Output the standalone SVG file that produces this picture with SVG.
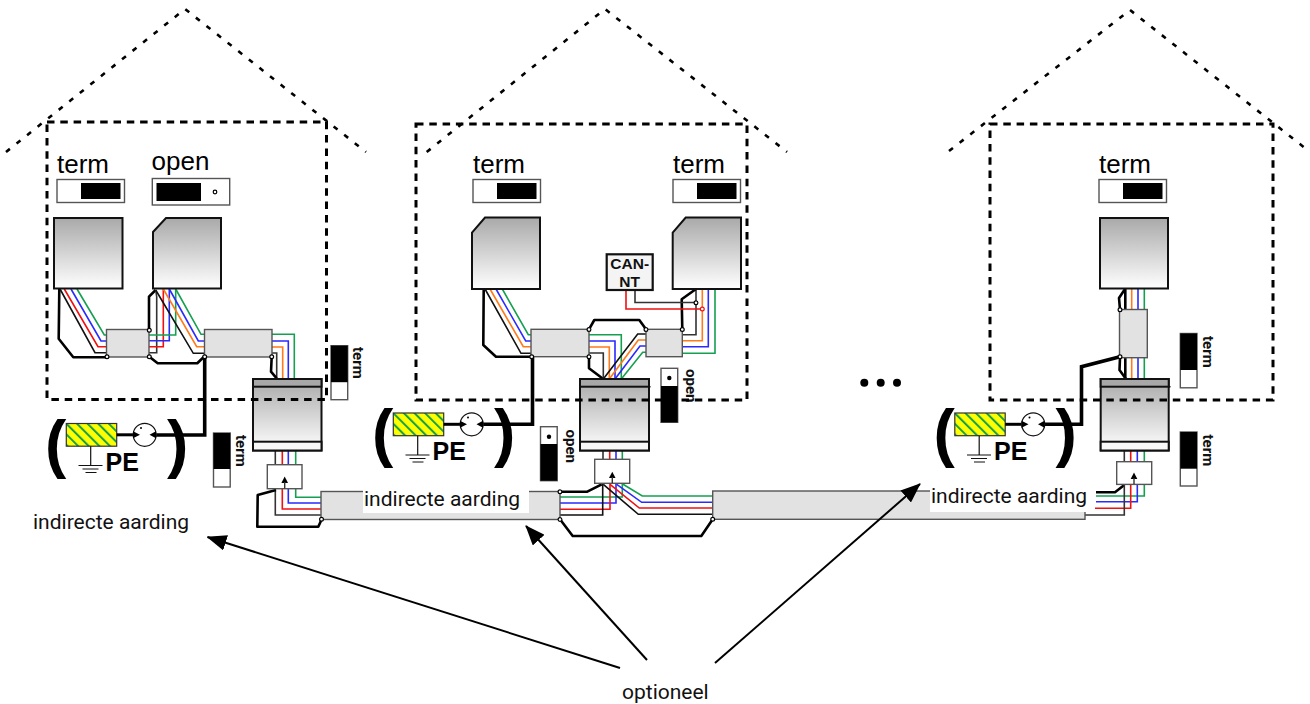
<svg xmlns="http://www.w3.org/2000/svg" width="1310" height="704" viewBox="0 0 1310 704">
<style>
.w{fill:none;stroke-width:1.6;stroke-linejoin:miter}
.r{stroke:#f01010}.b{stroke:#2a2aff}.g{stroke:#14a050}.o{stroke:#ff7a1a}.k{stroke:#333}.kk{stroke:#111}
.t{fill:none;stroke:#000;stroke-width:2.6;stroke-linejoin:round}
.tt{fill:none;stroke:#000;stroke-width:3.6;stroke-linejoin:miter}
.dev{fill:url(#gr);stroke:#111;stroke-width:2}
.band{fill:#a8a8a8;stroke:#111;stroke-width:2}
.low{fill:#f8f8f8;stroke:#111;stroke-width:2}
.split{fill:#e2e2e2;stroke:#555;stroke-width:1.4}
.box{fill:#fff;stroke:#555;stroke-width:1.4}
.sw{fill:#fff;stroke:#555;stroke-width:1.4}
.bl{fill:#000}
.big{font-family:"Liberation Sans",Arial,sans-serif;font-size:26px;fill:#000}
.lab{font-family:Roboto,"Liberation Sans",sans-serif;font-size:21px;fill:#111}
.rot{font-family:Roboto,"Liberation Sans",sans-serif;font-size:15px;font-weight:700;fill:#111}
.pe{font-family:"Liberation Sans",Arial,sans-serif;font-size:25px;font-weight:700;fill:#000}
.par{font-family:"Liberation Sans",Arial,sans-serif;font-size:64px;font-weight:700;fill:#000}
.can{font-family:"Liberation Sans",Arial,sans-serif;font-size:15.5px;font-weight:700;fill:#111;text-anchor:middle}
.dash{fill:none;stroke:#000;stroke-width:3;stroke-dasharray:7.5 5.8}
.roof{fill:none;stroke:#000;stroke-width:2.6;stroke-dasharray:5 8.5}
.arr{fill:none;stroke:#000;stroke-width:2}
.j{fill:#fff;stroke:#000;stroke-width:1.2}
</style>
<defs>
<linearGradient id="gr" x1="0" y1="0" x2="0" y2="1"><stop offset="0" stop-color="#a9a9a9"/><stop offset="1" stop-color="#fff"/></linearGradient>
<pattern id="hatch" width="7.5" height="7.5" patternUnits="userSpaceOnUse" patternTransform="rotate(-45)"><rect width="7.5" height="7.5" fill="#ffff00"/><rect width="2" height="7.5" fill="#14a050"/></pattern>
<marker id="ah" markerUnits="userSpaceOnUse" markerWidth="20" markerHeight="16" refX="19" refY="8" orient="auto"><path d="M0 0L20 8L0 16Z" fill="#000"/></marker>
</defs>

<g id="connectors">
<path class="t" d="M59.3 289L58.7 338.7L73.3 357.3H106.7"/>
<path class="w kk" d="M60 289L95 352.7H107"/>
<path class="w r" d="M64.3 289L98 346.7H107"/>
<path class="w b" d="M71 289L101 341H107"/>
<path class="w g" d="M77 289L104.3 335H107"/>
<path class="t" d="M149 330V296.7L155.7 290"/>
<path class="w k" d="M149 352.7H156.7V296.7L155.7 290"/>
<path class="w r" d="M149 346.7H163.3V289"/>
<path class="w b" d="M149 340.7H169.3V289"/>
<path class="w g" d="M149 335H175.7V289"/>
<path class="w kk" d="M155.7 290L193.3 353.3H204"/>
<path class="w o" d="M163.3 289L196.7 346.7H204"/>
<path class="w b" d="M169.3 289L198.3 341H204"/>
<path class="w g" d="M175.7 289L201 334.3H204"/>
<path class="t" d="M149.3 356.7L157.7 363.3H197.3L204 356.7"/>
<path class="w g" d="M272 334.3H294.3V379"/>
<path class="w b" d="M272 341H288.3V379"/>
<path class="w o" d="M272 347H282.7V379"/>
<path class="w k" d="M272 353H276.7V379"/>
<path class="t" d="M271.7 356.7L271 371.7L276.7 378.3"/>
<path class="tt" d="M204.7 357V435H156"/>
<path class="w k" d="M275.3 450V465"/><path class="w r" d="M282.3 450V465"/><path class="w b" d="M288.3 450V465"/><path class="w g" d="M295.7 450V465"/>
<path class="w g" d="M295.7 488V497.3H321"/>
<path class="w b" d="M288.3 488V503H321"/>
<path class="w r" d="M282.3 488V509H321"/>
<path class="w k" d="M275.3 488V515H321"/>
<path class="t" d="M276 490L257.7 495L257.3 526.7H318.3L321.7 519.3"/>
<path class="t" d="M483.7 289L483.3 345L496 356.7H531.7"/>
<path class="w kk" d="M485 289L521 353.3H531"/>
<path class="w o" d="M490 289L523.3 346.7H531"/>
<path class="w b" d="M496 289L525.7 341H531"/>
<path class="w g" d="M502.3 289L528.3 334.7H531"/>
<path class="t" d="M589 329.3L594.3 320H639.3L646 329.3"/>
<path class="t" d="M589 356.7V368.3L603.3 379"/>
<path class="w g" d="M589 334.7H621.3V379"/>
<path class="w b" d="M589 341H615V379"/>
<path class="w o" d="M589 347H609.3V379"/>
<path class="w k" d="M589 353H603.3V379"/>
<path class="w kk" d="M646 334H637.7L603.3 379"/>
<path class="w o" d="M646 340H638.3L609.3 379"/>
<path class="w b" d="M646 346H640L615 379"/>
<path class="w g" d="M646 352.3H642.7L621.3 379"/>
<path class="w k" d="M682 334.7H696V289"/>
<path class="w o" d="M682 340.7H702.3V289"/>
<path class="w b" d="M682 346.7H708.3V289"/>
<path class="w g" d="M682 353.3H715V289"/>
<path class="t" d="M682.3 329.3L681.7 299.3L696 289"/>
<path class="w k" d="M635 290V302.5H696"/>
<path class="w r" d="M626 290V309H702.3"/>
<path class="tt" d="M532.5 357V424.3H483"/>
<path class="w k" d="M603 450V459"/><path class="w r" d="M609.7 450V459"/><path class="w b" d="M616 450V459"/><path class="w g" d="M622.3 450V459"/>
<path class="t" d="M560 491.7H587.3L601.7 484.3"/>
<path class="w g" d="M560 497H622.3V483"/>
<path class="w b" d="M560 503H616V483"/>
<path class="w r" d="M560 509.3H610V483"/>
<path class="w kk" d="M560 515H602.7V483"/>
<path class="w g" d="M623 484.3L642.3 496H712.7"/>
<path class="w b" d="M616.7 484.3L641.7 502.3H712.7"/>
<path class="w r" d="M610 484.3L639.3 508H712.7"/>
<path class="w kk" d="M603.3 484.3L638.3 514.3H712.7"/>
<path class="t" d="M560 519.3L572.7 536H701.3L712.7 519.3"/>
<path class="t" d="M1125.3 288V379"/>
<path class="w o" d="M1131.7 288V380"/><path class="w b" d="M1138 288V380"/><path class="w g" d="M1144.3 288V380"/>
<path class="t" d="M1120 309.7L1119 298L1125 289"/>
<path class="t" d="M1120 357.7L1119.5 370L1126 379"/>
<path class="tt" d="M1120 356.7L1081.5 366.7V424.3H1045"/>
<path class="w k" d="M1124.3 450V462"/><path class="w r" d="M1130.7 450V462"/><path class="w b" d="M1137.3 450V462"/><path class="w g" d="M1144.3 450V462"/>
<path class="t" d="M1096 492.3H1115L1124.3 485"/>
<path class="w g" d="M1096 496H1144.3V484"/>
<path class="w b" d="M1096 501.7H1137.3V484"/>
<path class="w r" d="M1095 508.3H1130.7V484"/>
<path class="w k" d="M1085 515H1124.3V484"/>
</g>

<g id="node-device-1a"><rect class="dev" x="54" y="218" width="68.5" height="70.5"/></g>
<g id="node-device-1b"><path class="dev" d="M153 232L166 218H221V288.5H153Z"/></g>
<g id="node-switch-1a"><text class="big" x="57" y="173">term</text><rect class="sw" x="57" y="179.5" width="67.5" height="23"/><rect class="bl" x="81" y="183" width="39.5" height="16"/></g>
<g id="node-switch-1b"><text class="big" x="151.5" y="170">open</text><rect class="sw" x="152.3" y="178.5" width="77.4" height="26.5"/><rect class="bl" x="156.5" y="183" width="44.5" height="18"/><circle cx="215" cy="192" r="1.8" fill="#fff" stroke="#000" stroke-width="1.2"/></g>
<g id="node-splitter-1a"><rect class="split" x="106.5" y="329.5" width="42.5" height="27.5"/></g>
<g id="node-splitter-1b"><rect class="split" x="204.5" y="329.5" width="67.5" height="27.5"/></g>
<g id="node-main-1"><rect class="dev" x="253" y="379" width="68.5" height="71.5"/><rect class="band" x="253" y="379" width="68.5" height="7.7"/><rect class="low" x="253" y="441.7" width="68.5" height="8.8"/></g>
<g id="node-vswitch-1a"><rect class="sw" x="331" y="345.7" width="16.7" height="54"/><rect class="bl" x="331" y="345.7" width="16.7" height="36.5"/><text class="rot" transform="translate(353 347) rotate(90)">term</text></g>
<g id="node-vswitch-1b"><rect class="sw" x="213.5" y="433" width="16.7" height="54"/><rect class="bl" x="213.5" y="433" width="16.7" height="36"/><text class="rot" transform="translate(236 435) rotate(90)">term</text></g>
<g id="node-box-1"><rect class="box" x="267.3" y="464.7" width="34.7" height="24"/><path d="M284.7 476.5L288 483H281.4Z" fill="#000"/><path d="M284.7 482V488.5" stroke="#333" stroke-width="1.4"/></g>

<g id="node-pe-1" transform="translate(-327 10.5)">
<rect x="393.3" y="413" width="50.4" height="22.7" fill="url(#hatch)" stroke="#333" stroke-width="1.2"/>
<path d="M443.7 424.3H460" stroke="#000" stroke-width="3"/>
<circle cx="471.7" cy="424.3" r="11.5" fill="#fff" stroke="#111" stroke-width="1.2"/>
<path d="M467 424.3L460 420.8V427.8Z M476.5 424.3L483 420.8V427.8Z" fill="#000"/><circle cx="468" cy="417.5" r="1" fill="#000"/>
<path d="M417.7 435.7V455M405.5 455H429.5M409.5 458.5H425.5M412.5 462H423.5" stroke="#111" stroke-width="1.2" fill="none"/>
<text class="pe" x="432.5" y="460">PE</text>
<text class="par" x="372" y="455">(</text><text class="par" x="494" y="455">)</text>
</g>

<g id="node-device-2a"><path class="dev" d="M472 232.7L485 217.5H540V289H472Z"/></g>
<g id="node-device-2b"><path class="dev" d="M672.7 232.7L685.7 217.5H741V289H672.7Z"/></g>
<g id="node-switch-2a"><text class="big" x="473" y="173">term</text><rect class="sw" x="473" y="179.5" width="67.5" height="23"/><rect class="bl" x="497" y="183" width="39.5" height="16"/></g>
<g id="node-switch-2b"><text class="big" x="673" y="173">term</text><rect class="sw" x="673" y="179.5" width="67.5" height="23"/><rect class="bl" x="697" y="183" width="39.5" height="16"/></g>
<g id="node-can-nt"><rect x="606.7" y="254.3" width="46" height="35.7" fill="#f4f4f4" stroke="#111" stroke-width="2.2"/><text class="can" x="629.7" y="269.3">CAN-</text><text class="can" x="629.7" y="287.3">NT</text></g>
<g id="node-splitter-2a"><rect class="split" x="531" y="329.3" width="58" height="27.4"/></g>
<g id="node-splitter-2b"><rect class="split" x="646" y="329.3" width="36.3" height="27.4"/></g>
<g id="node-main-2"><rect class="dev" x="580" y="379" width="69" height="71.5"/><rect class="band" x="580" y="379" width="69" height="7.7"/><path d="M649 386.7H650.5" stroke="#111" stroke-width="1.5"/><rect class="low" x="580" y="441.7" width="69" height="8.8"/></g>
<g id="node-vswitch-2a"><rect class="sw" x="661" y="368.3" width="16.7" height="54"/><rect class="bl" x="661" y="386" width="16.7" height="36.3"/><circle cx="669.3" cy="378" r="2.2" fill="#000"/><text class="rot" transform="translate(686 369) rotate(90)">open</text></g>
<g id="node-vswitch-2b"><rect class="sw" x="540.5" y="426.7" width="16.7" height="54"/><rect class="bl" x="540.5" y="444" width="16.7" height="36.7"/><circle cx="549" cy="436.7" r="2.2" fill="#000"/><text class="rot" transform="translate(566 429.5) rotate(90)">open</text></g>
<g id="node-box-2"><rect class="box" x="594.7" y="459.3" width="35" height="24"/><path d="M612.3 471.7L615.5 478H609Z" fill="#000"/><path d="M612.3 477V483" stroke="#333" stroke-width="1.4"/></g>

<g id="node-pe-2">
<rect x="393.3" y="413" width="50.4" height="22.7" fill="url(#hatch)" stroke="#333" stroke-width="1.2"/>
<path d="M443.7 424.3H460" stroke="#000" stroke-width="3"/>
<circle cx="471.7" cy="424.3" r="11.5" fill="#fff" stroke="#111" stroke-width="1.2"/>
<path d="M467 424.3L460 420.8V427.8Z M476.5 424.3L483 420.8V427.8Z" fill="#000"/><circle cx="468" cy="417.5" r="1" fill="#000"/>
<path d="M417.7 435.7V455M405.5 455H429.5M409.5 458.5H425.5M412.5 462H423.5" stroke="#111" stroke-width="1.2" fill="none"/>
<text class="pe" x="432.5" y="460">PE</text>
<text class="par" x="372" y="455">(</text><text class="par" x="494" y="455">)</text>
</g>

<g id="node-device-3"><rect class="dev" x="1100" y="218" width="68" height="70.5"/></g>
<g id="node-switch-3"><text class="big" x="1099" y="173">term</text><rect class="sw" x="1099" y="179.5" width="67.5" height="23"/><rect class="bl" x="1123" y="183" width="39.5" height="16"/></g>
<g id="node-splitter-3"><rect class="split" x="1119.5" y="309.5" width="27.8" height="48.2"/></g>
<g id="node-main-3"><rect class="dev" x="1100.7" y="379" width="68" height="71.5"/><rect class="band" x="1100.7" y="379" width="68" height="7.7"/><path d="M1168.7 386.7H1170.5" stroke="#111" stroke-width="1.5"/><rect class="low" x="1100.7" y="441.7" width="68" height="8.8"/></g>
<g id="node-vswitch-3a"><rect class="sw" x="1180.3" y="333.5" width="16.7" height="54.3"/><rect class="bl" x="1180.3" y="333.5" width="16.7" height="36.5"/><text class="rot" transform="translate(1203 336) rotate(90)">term</text></g>
<g id="node-vswitch-3b"><rect class="sw" x="1180.3" y="432" width="16.7" height="54"/><rect class="bl" x="1180.3" y="432" width="16.7" height="36.7"/><text class="rot" transform="translate(1203 434.5) rotate(90)">term</text></g>
<g id="node-box-3"><rect class="box" x="1116.7" y="461.7" width="35" height="22.7"/><path d="M1134 472.5L1137.3 479H1130.7Z" fill="#000"/><path d="M1134 478V484" stroke="#333" stroke-width="1.4"/></g>

<g id="node-pe-3" transform="translate(561.5 0)">
<rect x="393.3" y="413" width="50.4" height="22.7" fill="url(#hatch)" stroke="#333" stroke-width="1.2"/>
<path d="M443.7 424.3H460" stroke="#000" stroke-width="3"/>
<circle cx="471.7" cy="424.3" r="11.5" fill="#fff" stroke="#111" stroke-width="1.2"/>
<path d="M467 424.3L460 420.8V427.8Z M476.5 424.3L483 420.8V427.8Z" fill="#000"/><circle cx="468" cy="417.5" r="1" fill="#000"/>
<path d="M417.7 435.7V455M405.5 455H429.5M409.5 458.5H425.5M412.5 462H423.5" stroke="#111" stroke-width="1.2" fill="none"/>
<text class="pe" x="432.5" y="460">PE</text>
<text class="par" x="372" y="455">(</text><text class="par" x="494" y="455">)</text>
</g>

<g id="node-cable-1"><rect class="split" x="321" y="491.5" width="239" height="28"/><rect x="363" y="488" width="166" height="25" fill="#fff"/><text class="lab" x="364" y="506">indirecte aarding</text></g>
<g id="node-cable-2"><rect class="split" x="712.7" y="491" width="372.3" height="28.3"/><rect x="930" y="485" width="160" height="27" fill="#fff"/><text class="lab" x="931" y="503">indirecte aarding</text></g>

<g id="connectors-option">
<path class="arr" d="M620 668L207.5 537" marker-end="url(#ah)"/>
<path class="arr" d="M647 660L526 526" marker-end="url(#ah)"/>
<path class="arr" d="M715 663L920 484" marker-end="url(#ah)"/>
</g>

<g id="junctions">
<circle class="j" cx="107" cy="356.8" r="1.9"/><circle class="j" cx="149.3" cy="330.3" r="1.9"/><circle class="j" cx="149.3" cy="356.8" r="1.9"/><circle class="j" cx="204.7" cy="356.8" r="1.9"/><circle class="j" cx="271.7" cy="356.8" r="1.9"/><circle class="j" cx="321.5" cy="519.3" r="1.9"/>
<circle class="j" cx="531.7" cy="356.7" r="1.9"/><circle class="j" cx="589" cy="329.5" r="1.9"/><circle class="j" cx="589" cy="356.7" r="1.9"/><circle class="j" cx="646" cy="329.5" r="1.9"/><circle class="j" cx="682.3" cy="329.5" r="1.9"/><circle class="j" cx="696" cy="302.7" r="1.9"/><circle class="j" cx="702.3" cy="309" r="1.9" style="stroke:#f01010"/><circle class="j" cx="560" cy="491.7" r="1.9"/><circle class="j" cx="560" cy="519.5" r="1.9"/><circle class="j" cx="712.7" cy="519.3" r="1.9"/>
<circle class="j" cx="1120" cy="309.7" r="1.9"/><circle class="j" cx="1120" cy="356.7" r="1.9"/>
</g>

<g id="houses">
<path class="roof" d="M6 152L185 9L366 152"/>
<path class="roof" d="M426.7 152L605 9L787 152"/>
<path class="roof" d="M949 151L1130 10L1310 152"/>
<rect class="dash" x="47" y="122" width="279.5" height="277.5"/>
<rect class="dash" x="416" y="124" width="331" height="276"/>
<rect class="dash" x="990" y="124" width="283" height="276"/>
</g>

<g id="labels">
<text class="lab" x="33" y="528.5">indirecte aarding</text>
<text class="lab" x="622" y="699">optioneel</text>
<circle cx="864.3" cy="382.7" r="4" fill="#000"/><circle cx="880.7" cy="382.7" r="4" fill="#000"/><circle cx="897" cy="382.7" r="4" fill="#000"/>
</g>
</svg>
